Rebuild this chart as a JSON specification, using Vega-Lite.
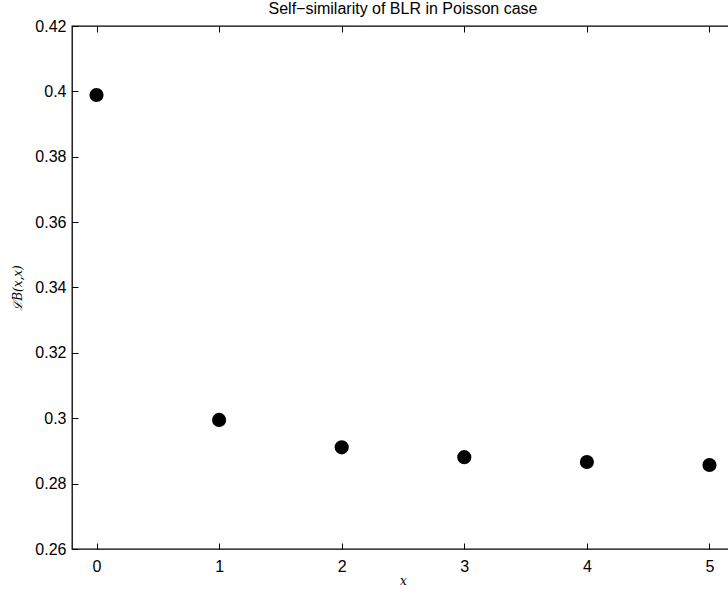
{
  "$schema": "https://vega.github.io/schema/vega-lite/v6.json",
  "autosize": {"type": "none"},
  "padding": {"left": 72, "top": 26, "right": 0, "bottom": 41},
  "width": 662,
  "height": 523,
  "background": "white",
  "title": {
    "text": "Self\u2212similarity of BLR in Poisson case",
    "font": "Liberation Sans",
    "fontSize": 16,
    "fontWeight": "normal",
    "color": "black",
    "anchor": "middle",
    "baseline": "alphabetic",
    "offset": -11.5
  },
  "config": {
    "view": {"stroke": "black", "strokeWidth": 1.3},
    "axis": {
      "domain": false,
      "offset": -6,
      "tickColor": "black",
      "tickSize": 6,
      "tickWidth": 1,
      "labelFont": "Liberation Sans",
      "labelFontSize": 16,
      "labelColor": "black",
      "grid": false
    }
  },
  "data": {
    "values": [
      {"x": 0, "y": 0.3989},
      {"x": 1, "y": 0.2995},
      {"x": 2, "y": 0.2911},
      {"x": 3, "y": 0.2881},
      {"x": 4, "y": 0.2866},
      {"x": 5, "y": 0.2857}
    ]
  },
  "layer": [
    {
      "mark": {"type": "point", "filled": true, "color": "black", "opacity": 1, "size": 200},
      "encoding": {
        "x": {
          "field": "x", "type": "quantitative",
          "scale": {"domain": [-0.2, 5.2], "nice": false, "zero": false},
          "axis": {
            "orient": "bottom",
            "values": [0, 1, 2, 3, 4, 5],
            "labelPadding": 9,
            "title": "x",
            "titleFont": "DejaVu Serif",
            "titleFontStyle": "italic",
            "titleFontWeight": "normal",
            "titleFontSize": 12,
            "titleColor": "black",
            "titlePadding": 1
          }
        },
        "y": {
          "field": "y", "type": "quantitative",
          "scale": {"domain": [0.26, 0.42], "nice": false, "zero": false},
          "axis": {
            "orient": "left",
            "values": [0.26, 0.28, 0.3, 0.32, 0.34, 0.36, 0.38, 0.4, 0.42],
            "format": ".2~f",
            "labelPadding": 6,
            "title": "\u2112B(x,x)",
            "titleFont": "DejaVu Serif",
            "titleFontStyle": "italic",
            "titleFontWeight": "normal",
            "titleFontSize": 12,
            "titleColor": "black",
            "titlePadding": 10
          }
        }
      }
    },
    {
      "mark": {"type": "point", "opacity": 0},
      "encoding": {
        "x": {
          "field": "x", "type": "quantitative",
          "scale": {"domain": [-0.2, 5.2], "nice": false, "zero": false},
          "axis": {"orient": "top", "values": [0, 1, 2, 3, 4, 5], "labels": false, "title": null}
        },
        "y": {
          "field": "y", "type": "quantitative",
          "scale": {"domain": [0.26, 0.42], "nice": false, "zero": false},
          "axis": {"orient": "right", "values": [0.26, 0.28, 0.3, 0.32, 0.34, 0.36, 0.38, 0.4, 0.42], "labels": false, "title": null}
        }
      }
    }
  ],
  "resolve": {"axis": {"x": "independent", "y": "independent"}}
}
